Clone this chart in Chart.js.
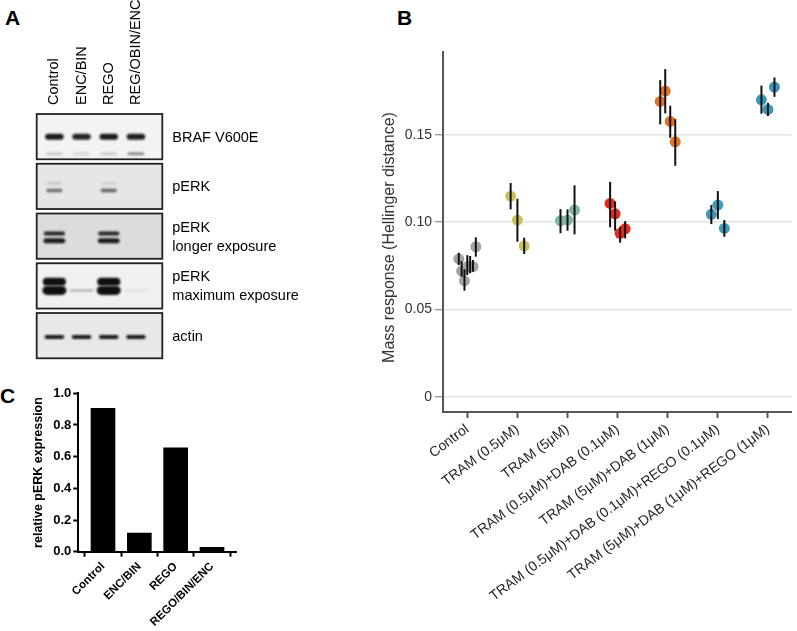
<!DOCTYPE html>
<html><head><meta charset="utf-8">
<script src="https://cdn.jsdelivr.net/npm/chart.js@4.4.0/dist/chart.umd.min.js"></script>
<style>
html,body{margin:0;padding:0;overflow:hidden;background:#fff;width:797px;height:631px;}
canvas{position:absolute;}
#pA{left:0;top:0;}
#pB{left:360px;top:0;}
#pC{left:0;top:360px;}
.lab{position:absolute;font:bold 21px 'Liberation Sans',Arial,sans-serif;line-height:21px;color:#000;}
</style></head><body>
<div class="lab" style="left:5px;top:7px;">A</div>
<div class="lab" style="left:397px;top:7px;">B</div>
<div class="lab" style="left:0px;top:385px;">C</div>
<canvas id="pA" width="340" height="360"></canvas>
<canvas id="pB" width="437" height="631"></canvas>
<canvas id="pC" width="260" height="271"></canvas>
<script>
// ---------- Panel A data (band intensities per lane) ----------
const laneLabels = ['Control','ENC/BIN','REGO','REG/OBIN/ENC'];
const brafMain = [0.95,0.9,0.95,0.93];
const brafLower = [0.18,0.12,0.18,0.45];
const perkUpper = [0.15,0,0.12,0];
const perkLower = [0.55,0,0.6,0];
const perkLongUpper = [0.9,0,0.9,0];
const perkLongLower = [0.95,0,0.95,0];
const perkMaxUpper = [1,0,1,0];
const perkMaxLower = [1,0.22,1,0.06];
const actinBand = [0.95,0.95,0.95,0.95];

// ---------- Panel B data ----------
const groupLabels = ['Control','TRAM (0.5μM)','TRAM (5μM)','TRAM (0.5μM)+DAB (0.1μM)','TRAM (5μM)+DAB (1μM)','TRAM (0.5μM)+DAB (0.1μM)+REGO (0.1μM)','TRAM (5μM)+DAB (1μM)+REGO (1μM)'];
const ctrlMean = [0.0789,0.0720,0.0664,0.0745,0.0745,0.0745,0.0859];
const ctrlLow  = [0.0754,0.0687,0.0607,0.0697,0.0707,0.0716,0.0802];
const ctrlHigh = [0.0825,0.0777,0.0730,0.0811,0.0806,0.0783,0.0913];
const tram05Mean = [0.1149,0.1012,0.0863];
const tram05Low  = [0.1073,0.0888,0.0817];
const tram05High = [0.1224,0.1134,0.0911];
const tram5Mean = [0.1008,0.1012,0.1069];
const tram5Low  = [0.0936,0.0951,0.0930];
const tram5High = [0.1075,0.1073,0.1211];
const tram05Dab01Mean = [0.1107,0.1048,0.0936,0.0962];
const tram05Dab01Low  = [0.0970,0.0951,0.0882,0.0907];
const tram05Dab01High = [0.1231,0.1119,0.0974,0.1006];
const tram5Dab1Mean = [0.1692,0.1751,0.1577,0.1460];
const tram5Dab1Low  = [0.1560,0.1623,0.1483,0.1323];
const tram5Dab1High = [0.1814,0.1877,0.1667,0.1590];
const tram05Dab01Rego01Mean = [0.1045,0.1098,0.0964];
const tram05Dab01Rego01Low  = [0.0989,0.1018,0.0916];
const tram05Dab01Rego01High = [0.1098,0.1178,0.1012];
const tram5Dab1Rego1Mean = [0.1701,0.1646,0.1774];
const tram5Dab1Rego1Low  = [0.1621,0.1608,0.1718];
const tram5Dab1Rego1High = [0.1783,0.1684,0.1829];
const yTicksB = [0,0.05,0.10,0.15];

// ---------- Panel C data ----------
const cLabels = ['Control','ENC/BIN','REGO','REGO/BIN/ENC'];
const cValues = [0.905,0.118,0.655,0.028];
const yTicksC = [0,0.2,0.4,0.6,0.8,1.0];

const FONT = "'Liberation Sans', Arial, Helvetica, sans-serif";
Chart.defaults.font.family = FONT;

function roundRect(ctx,x,y,w,h,r){
  ctx.beginPath();
  ctx.moveTo(x+r,y); ctx.lineTo(x+w-r,y); ctx.arc(x+w-r,y+r,r,-Math.PI/2,0);
  ctx.lineTo(x+w,y+h-r); ctx.arc(x+w-r,y+h-r,r,0,Math.PI/2);
  ctx.lineTo(x+r,y+h); ctx.arc(x+r,y+h-r,r,Math.PI/2,Math.PI);
  ctx.lineTo(x,y+r); ctx.arc(x+r,y+r,r,Math.PI,Math.PI*1.5);
  ctx.closePath();
}

// ---------- Panel A ----------
const blotRows = [
  {label:['BRAF V600E'], bg:'#f3f3f3', bands:[{v:brafMain,pos:0.50,h:6,w:0.68},{v:brafLower,pos:0.88,h:3,w:0.62}]},
  {label:['pERK'], bg:'#e6e6e6', bands:[{v:perkUpper,pos:0.43,h:2.5,w:0.55},{v:perkLower,pos:0.59,h:3.5,w:0.6}]},
  {label:['pERK','longer exposure'], bg:'#dcdcdc', bands:[{v:perkLongUpper,pos:0.44,h:4,w:0.78},{v:perkLongLower,pos:0.60,h:5,w:0.8}]},
  {label:['pERK','maximum exposure'], bg:'#f1f1f1', bands:[{v:perkMaxUpper,pos:0.41,h:8,w:0.85},{v:perkMaxLower,pos:0.60,h:9,w:0.88}]},
  {label:['actin'], bg:'#e8e8e8', bands:[{v:actinBand,pos:0.53,h:4,w:0.72}]}
];
const blotPlugin = {
  id:'blot',
  afterDraw(chart){
    const {ctx, scales:{x,y}, chartArea} = chart;
    const font = "14.5px " + FONT;
    ctx.save();
    ctx.font = font; ctx.fillStyle = '#000'; ctx.textAlign = 'left'; ctx.textBaseline = 'middle';
    laneLabels.forEach((l,i)=>{
      ctx.save(); ctx.translate(x.getPixelForValue(i), 105); ctx.rotate(-Math.PI/2); ctx.fillText(l,0,0); ctx.restore();
    });
    const unit = x.getPixelForValue(1) - x.getPixelForValue(0);
    blotRows.forEach((r,ri)=>{
      const top = y.getPixelForValue(ri), bot = y.getPixelForValue(ri+0.91);
      const left = chartArea.left, right = chartArea.right;
      ctx.fillStyle = r.bg; ctx.fillRect(left, top, right-left, bot-top);
      ctx.save();
      ctx.beginPath(); ctx.rect(left, top, right-left, bot-top); ctx.clip();
      ctx.filter = 'blur(0.8px)';
      r.bands.forEach(b=>{
        b.v.forEach((a,li)=>{
          if (a <= 0) return;
          const faint = a < 0.3;
          const cx = x.getPixelForValue(li), w = b.w*unit, cy = top + b.pos*(bot-top);
          const h = faint ? Math.min(b.h, 3) : b.h;
          ctx.fillStyle = 'rgba(15,15,15,' + a + ')';
          roundRect(ctx, cx-w/2, cy-h/2, w, h, h/2);
          ctx.fill();
        });
      });
      ctx.restore();
      ctx.strokeStyle = '#222'; ctx.lineWidth = 1.8;
      ctx.strokeRect(left, top, right-left, bot-top);
      ctx.fillStyle = '#000'; ctx.font = font; ctx.textAlign = 'left'; ctx.textBaseline = 'middle';
      const mid = (top+bot)/2, n = r.label.length;
      r.label.forEach((t,k)=>ctx.fillText(t, right+10, mid + (k-(n-1)/2)*19 + 1));
    });
    ctx.restore();
  }
};
new Chart(document.getElementById('pA'), {
  type:'scatter',
  data:{datasets:[{data:[]}]},
  options:{
    responsive:false, animation:false, devicePixelRatio:1,
    layout:{padding:{left:36.7, right:177.7, top:114, bottom:1.7}},
    plugins:{legend:{display:false}, tooltip:{enabled:false}},
    scales:{
      x:{type:'linear', min:-0.65, max:3.97, display:false},
      y:{type:'linear', min:0, max:4.91, reverse:true, display:false}
    }
  },
  plugins:[blotPlugin]
});

// ---------- Panel B ----------
const groupsB = [
  {mean:ctrlMean, low:ctrlLow, high:ctrlHigh, color:'#a4a4a4', spread:0.34},
  {mean:tram05Mean, low:tram05Low, high:tram05High, color:'#c8c25a', spread:0.27},
  {mean:tram5Mean, low:tram5Low, high:tram5High, color:'#7fb6a5', spread:0.28},
  {mean:tram05Dab01Mean, low:tram05Dab01Low, high:tram05Dab01High, color:'#e6281f', spread:0.30},
  {mean:tram5Dab1Mean, low:tram5Dab1Low, high:tram5Dab1High, color:'#e07226', spread:0.30},
  {mean:tram05Dab01Rego01Mean, low:tram05Dab01Rego01Low, high:tram05Dab01Rego01High, color:'#3f9bba', spread:0.26},
  {mean:tram5Dab1Rego1Mean, low:tram5Dab1Rego1Low, high:tram5Dab1Rego1High, color:'#3a98b6', spread:0.26}
];
function jitter(i,n,spread){ return n>1 ? -spread/2 + spread*i/(n-1) : 0; }
const errPlugin = {
  id:'err',
  afterDatasetsDraw(chart){
    const {ctx, scales:{x,y}} = chart;
    ctx.save(); ctx.strokeStyle = '#111'; ctx.lineWidth = 2;
    chart.data.datasets.forEach(ds=>{
      ds.data.forEach((p,i)=>{
        const px = x.getPixelForValue(p.x);
        ctx.beginPath();
        ctx.moveTo(px, y.getPixelForValue(ds.errLow[i]));
        ctx.lineTo(px, y.getPixelForValue(ds.errHigh[i]));
        ctx.stroke();
      });
    });
    ctx.restore();
  }
};
const titleBPlugin = {
  id:'titleB',
  afterDraw(chart){
    const ctx = chart.ctx;
    ctx.save(); ctx.font = '16px ' + FONT; ctx.fillStyle = '#333';
    ctx.textAlign = 'center'; ctx.textBaseline = 'alphabetic';
    ctx.translate(34, 237.5); ctx.rotate(-Math.PI/2);
    ctx.fillText('Mass response (Hellinger distance)', 0, 0);
    ctx.restore();
  }
};
new Chart(document.getElementById('pB'), {
  type:'scatter',
  data:{datasets: groupsB.map((g,gi)=>({
    data: g.mean.map((m,i)=>({x: gi + jitter(i, g.mean.length, g.spread), y: m})),
    errLow: g.low, errHigh: g.high,
    backgroundColor: g.color, borderWidth: 0, pointRadius: 5.5, pointHoverRadius: 5.5
  }))},
  options:{
    responsive:false, animation:false, devicePixelRatio:1,
    layout:{padding:{top:52, left:0, right:0, bottom:0}},
    plugins:{legend:{display:false}, tooltip:{enabled:false}},
    scales:{
      x:{type:'linear', min:-0.485, max:6.47,
        afterBuildTicks: s => { s.ticks = groupLabels.map((_,i)=>({value:i})); },
        afterFit: s => { s.height = 219; s.paddingLeft = 0; s.paddingRight = 0; },
        ticks:{callback: v => groupLabels[v], autoSkip:false, minRotation:37, maxRotation:37, color:'#222', font:{size:14}, padding:3},
        grid:{drawOnChartArea:false, tickLength:6, tickWidth:2, tickColor:'#555'},
        border:{color:'#555', width:2}
      },
      y:{type:'linear', min:-0.0088, max:0.1975,
        afterBuildTicks: s => { s.ticks = yTicksB.map(v=>({value:v})); },
        afterFit: s => { s.width = 83; },
        ticks:{callback: v => v === 0 ? '0' : v.toFixed(2), color:'#333', font:{size:14}, padding:3},
        grid:{color:'#e4e4e4', lineWidth:1.5, tickColor:'#777', tickLength:8, tickWidth:1},
        border:{color:'#555', width:2}
      }
    }
  },
  plugins:[errPlugin, titleBPlugin]
});

// ---------- Panel C ----------
const titleCPlugin = {
  id:'titleC',
  afterDraw(chart){
    const ctx = chart.ctx;
    ctx.save(); ctx.font = 'bold 12.5px ' + FONT; ctx.fillStyle = '#000';
    ctx.textAlign = 'center'; ctx.textBaseline = 'alphabetic';
    ctx.translate(42, 112.5); ctx.rotate(-Math.PI/2);
    ctx.fillText('relative pERK expression', 0, 0);
    ctx.restore();
  }
};
new Chart(document.getElementById('pC'), {
  type:'bar',
  data:{datasets:[{
    data: cValues.map((v,i)=>({x:i, y:v})),
    backgroundColor:'#000', borderWidth:0, barThickness:24
  }]},
  options:{
    responsive:false, animation:false, devicePixelRatio:1,
    layout:{padding:{top:33.3, left:0, right:23.3, bottom:0}},
    plugins:{legend:{display:false}, tooltip:{enabled:false}},
    scales:{
      x:{type:'linear', min:-0.68, max:3.68, offset:false,
        afterBuildTicks: s => { s.ticks = cLabels.map((_,i)=>({value:i})); },
        afterFit: s => { s.height = 79.3; s.paddingLeft = 0; s.paddingRight = 0; },
        ticks:{callback: v => cLabels[v], autoSkip:false, minRotation:45, maxRotation:45, color:'#000', font:{size:11.5, weight:'bold'}, padding:3},
        grid:{drawOnChartArea:false, tickLength:5, tickWidth:2, tickColor:'#000'},
        border:{color:'#000', width:2}
      },
      y:{type:'linear', min:0, max:1,
        afterBuildTicks: s => { s.ticks = yTicksC.map(v=>({value:v})); },
        afterFit: s => { s.width = 78.3; },
        ticks:{callback: v => v.toFixed(1), color:'#000', font:{size:13, weight:'bold'}, padding:2},
        grid:{drawOnChartArea:false, tickLength:5, tickWidth:2, tickColor:'#000'},
        border:{color:'#000', width:2}
      }
    }
  },
  plugins:[titleCPlugin]
});
</script>
</body></html>
